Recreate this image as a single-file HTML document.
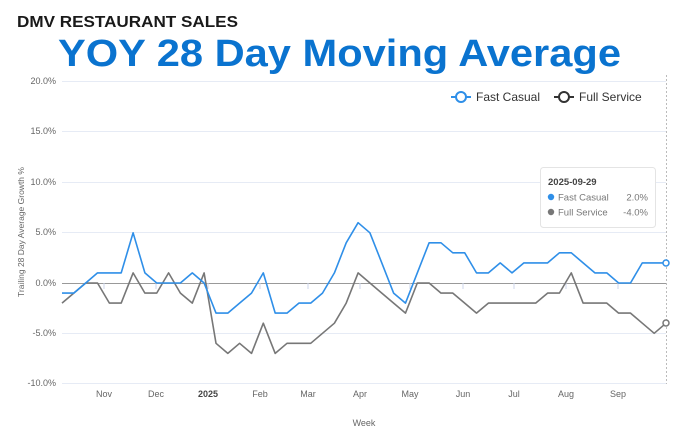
<!DOCTYPE html>
<html><head><meta charset="utf-8"><style>body{margin:0;background:#fff}svg{display:block}</style></head><body>
<svg width="676" height="436" xmlns="http://www.w3.org/2000/svg" font-family="Liberation Sans, sans-serif">
<text x="17" y="27" font-size="16" font-weight="900" fill="#1a1a1a" textLength="221" lengthAdjust="spacingAndGlyphs">DMV RESTAURANT SALES</text>
<text x="58" y="66" font-size="38" font-weight="700" fill="#0a73cf" textLength="563" lengthAdjust="spacingAndGlyphs">YOY 28 Day Moving Average</text>
<g stroke="#e6ebf5" stroke-width="1">
<line x1="62" x2="666" y1="81.5" y2="81.5"/><line x1="62" x2="666" y1="131.5" y2="131.5"/><line x1="62" x2="666" y1="182.5" y2="182.5"/><line x1="62" x2="666" y1="232.5" y2="232.5"/><line x1="62" x2="666" y1="333.5" y2="333.5"/><line x1="62" x2="666" y1="383.5" y2="383.5"/>
</g>
<line x1="62" x2="666" y1="283.5" y2="283.5" stroke="#999" stroke-width="1"/>
<g stroke="#ccd6eb"><line x1="104" x2="104" y1="283" y2="289"/><line x1="156" x2="156" y1="283" y2="289"/><line x1="208" x2="208" y1="283" y2="289"/><line x1="260" x2="260" y1="283" y2="289"/><line x1="308" x2="308" y1="283" y2="289"/><line x1="360" x2="360" y1="283" y2="289"/><line x1="410" x2="410" y1="283" y2="289"/><line x1="463" x2="463" y1="283" y2="289"/><line x1="514" x2="514" y1="283" y2="289"/><line x1="566" x2="566" y1="283" y2="289"/><line x1="618" x2="618" y1="283" y2="289"/></g>
<line x1="666.5" x2="666.5" y1="75" y2="384" stroke="#bbb" stroke-dasharray="2,2"/>
<g font-size="9" fill="#666" text-anchor="end">
<text x="56" y="84">20.0%</text><text x="56" y="134">15.0%</text><text x="56" y="185">10.0%</text><text x="56" y="235">5.0%</text><text x="56" y="286">0.0%</text><text x="56" y="336">-5.0%</text><text x="56" y="386">-10.0%</text>
</g>
<text transform="translate(24,232) rotate(-90)" font-size="8.5" fill="#666" text-anchor="middle">Trailing 28 Day Average Growth %</text>
<g font-size="9" fill="#666" text-anchor="middle">
<text x="104" y="397">Nov</text><text x="156" y="397">Dec</text><text x="208" y="397" font-weight="700" fill="#444">2025</text><text x="260" y="397">Feb</text><text x="308" y="397">Mar</text><text x="360" y="397">Apr</text><text x="410" y="397">May</text><text x="463" y="397">Jun</text><text x="514" y="397">Jul</text><text x="566" y="397">Aug</text><text x="618" y="397">Sep</text>
</g>
<text x="364" y="426" font-size="9" fill="#666" text-anchor="middle">Week</text>
<polyline id="g" fill="none" stroke="#777" stroke-width="1.6" stroke-linejoin="round" points=""/>
<polyline id="b" fill="none" stroke="#2f8fe8" stroke-width="1.6" stroke-linejoin="round" points=""/>
<circle id="bc" r="3" fill="#fff" stroke="#2f8fe8" stroke-width="1.5" cx="666" cy="263"/>
<circle id="gc" r="3" fill="#fff" stroke="#777" stroke-width="1.5" cx="666" cy="323"/>
<g>
<line x1="451" x2="471" y1="97" y2="97" stroke="#2f8fe8" stroke-width="2"/><circle cx="461" cy="97" r="5" fill="#fff" stroke="#2f8fe8" stroke-width="2"/>
<text x="476" y="101" font-size="12" fill="#333">Fast Casual</text>
<line x1="554" x2="574" y1="97" y2="97" stroke="#333" stroke-width="2"/><circle cx="564" cy="97" r="5" fill="#fff" stroke="#333" stroke-width="2"/>
<text x="579" y="101" font-size="12" fill="#333">Full Service</text>
</g>
<rect x="540.5" y="167.5" width="115" height="60" rx="3" fill="#fff" stroke="#e4e4e4"/>
<text x="548" y="185" font-size="9.5" font-weight="700" fill="#444">2025-09-29</text>
<circle cx="551" cy="197" r="3.2" fill="#2f8fe8"/><text x="558" y="200.5" font-size="9.5" fill="#777">Fast Casual</text><text x="648" y="200.5" font-size="9.5" fill="#777" text-anchor="end">2.0%</text>
<circle cx="551" cy="212" r="3.2" fill="#777"/><text x="558" y="215.5" font-size="9.5" fill="#777">Full Service</text><text x="648" y="215.5" font-size="9.5" fill="#777" text-anchor="end">-4.0%</text>
<script>
var B=[-1,-1,0,1,1,1,5,1,0,0,0,1,0,-3,-3,-2,-1,1,-3,-3,-2,-2,-1,1,4,6,5,2,-1,-2,1,4,4,3,3,1,1,2,1,2,2,2,3,3,2,1,1,0,0,2,2,2];
var G=[-2,-1,0,0,-2,-2,1,-1,-1,1,-1,-2,1,-6,-7,-6,-7,-4,-7,-6,-6,-6,-5,-4,-2,1,0,-1,-2,-3,0,0,-1,-1,-2,-3,-2,-2,-2,-2,-2,-1,-1,1,-2,-2,-2,-3,-3,-4,-5,-4];
function p(a){return a.map(function(v,i){return (62+i*604/51).toFixed(1)+","+(283-v*10.05).toFixed(1)}).join(" ")}
document.getElementById("b").setAttribute("points",p(B));
document.getElementById("g").setAttribute("points",p(G));
</script>
</svg>
</body></html>
